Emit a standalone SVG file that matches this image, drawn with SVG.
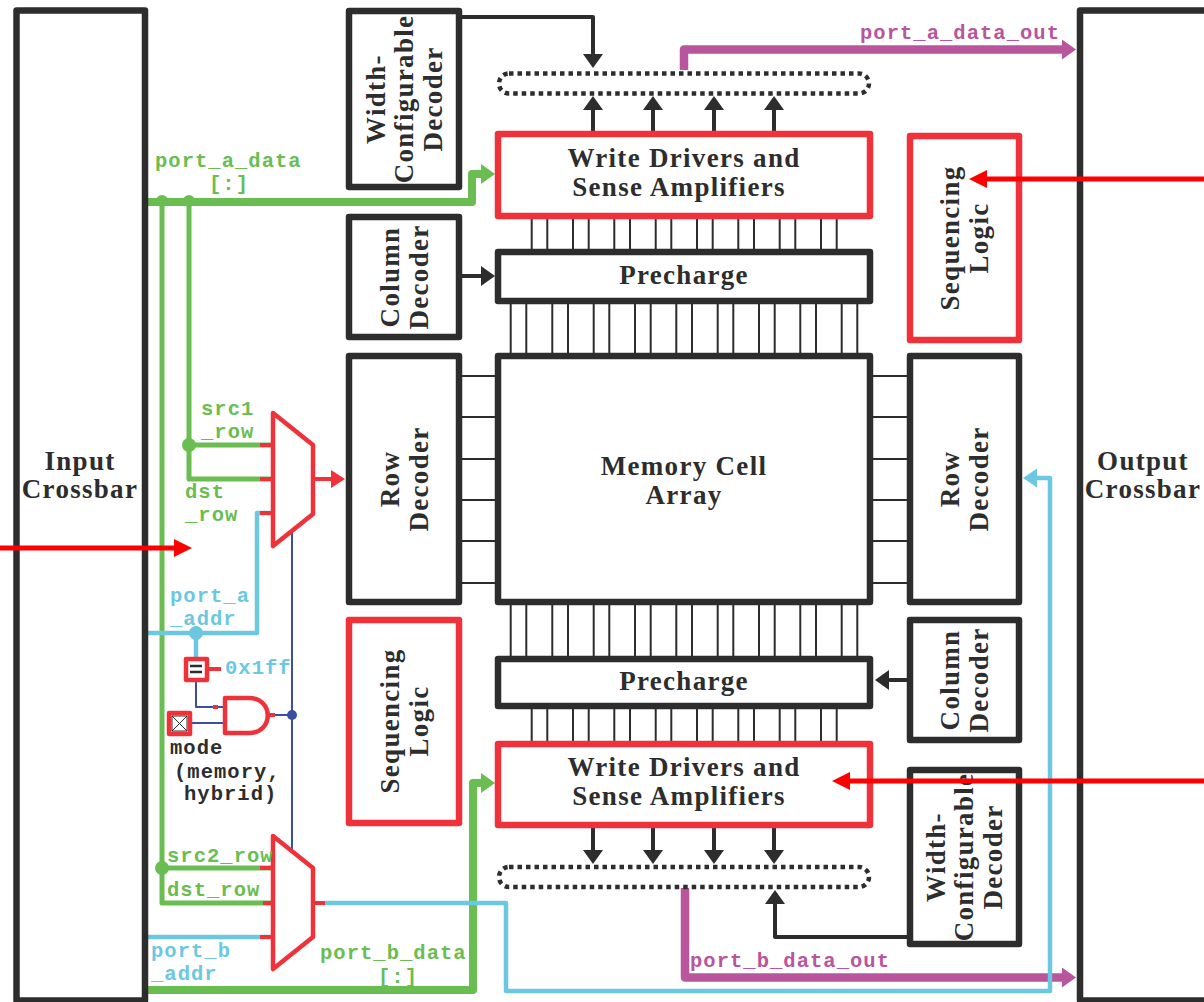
<svg xmlns="http://www.w3.org/2000/svg" width="1204" height="1002" viewBox="0 0 1204 1002">
<style>
.k{fill:#fff;stroke:#2d2d2d;stroke-width:6.500;stroke-linejoin:round}
.r{fill:#fff;stroke:#ef3239;stroke-width:6.500;stroke-linejoin:round}
.m{fill:#fff;stroke:#ef3239;stroke-width:4.500;stroke-linejoin:round}
.t{font-family:"Liberation Serif","DejaVu Serif",serif;font-weight:bold;font-size:27px;fill:#2d2d2d;text-anchor:middle;letter-spacing:1.300px}
.c{font-family:"Liberation Mono",monospace;font-weight:bold;font-size:20.500px;letter-spacing:1.030px}
.gt{fill:#69bd51}.bt{fill:#6cc8e0}.pt{fill:#b9559d}.dt{fill:#2d2d2d}
.wk{fill:none;stroke-linejoin:round;stroke:#2d2d2d;stroke-width:4}
.th{fill:none;stroke:#2d2d2d;stroke-width:2}
.gn{fill:none;stroke:#69bd51;stroke-width:5;stroke-linejoin:round}
.gb{fill:none;stroke:#69bd51;stroke-width:8;stroke-linejoin:round}
.bl{fill:none;stroke:#6cc8e0;stroke-width:4.500;stroke-linejoin:round}
.pu{fill:none;stroke:#b9559d;stroke-width:8.500;stroke-linejoin:round}
.db{fill:none;stroke:#3a4fa0;stroke-width:2;stroke-linejoin:round}
.rs{fill:none;stroke:#ef3239;stroke-width:4}
.rr{fill:none;stroke:#ff0000;stroke-width:5}
.dot{fill:none;stroke:#2d2d2d;stroke-width:4.500;stroke-dasharray:4.500 4}
</style>
<defs>
<marker id="ak" markerUnits="userSpaceOnUse" markerWidth="20" markerHeight="20" refX="4" refY="10" orient="auto"><path d="M0 0L14 10L0 20z" fill="#2d2d2d"/></marker>
<marker id="ag" markerUnits="userSpaceOnUse" markerWidth="15" markerHeight="20" refX="4" refY="10" orient="auto"><path d="M0 0L14 10L0 20z" fill="#69bd51"/></marker>
<marker id="ap" markerUnits="userSpaceOnUse" markerWidth="15" markerHeight="20" refX="4" refY="10" orient="auto"><path d="M0 0L14 10L0 20z" fill="#b9559d"/></marker>
<marker id="ab" markerUnits="userSpaceOnUse" markerWidth="15" markerHeight="20" refX="4" refY="10" orient="auto"><path d="M0 0.500L14 10L0 19.500z" fill="#6cc8e0"/></marker>
<marker id="ar" markerUnits="userSpaceOnUse" markerWidth="15" markerHeight="20" refX="4" refY="10" orient="auto"><path d="M0 1L14 10L0 19z" fill="#ef3239"/></marker>
<marker id="aR" markerUnits="userSpaceOnUse" markerWidth="20" markerHeight="20" refX="4" refY="9" orient="auto"><path d="M0 0L18 9L0 18z" fill="#ff0000"/></marker>
</defs>
<rect width="1204" height="1002" fill="#fff"/>
<g id="connectors">
<path class="gn" d="M162 202V903H273M162 868H273M189 202V479H273M189 445H273"/>
<path class="gb" d="M148 202H472V174H485" marker-end="url(#ag)"/>
<path class="gb" d="M148 990H473V783H485" marker-end="url(#ag)"/>
<path class="bl" d="M148 633H257V513H273M196 633V660M148 937H273"/>
<path class="pu" d="M684 70V49.500H1066" marker-end="url(#ap)"/>
<path class="pu" d="M685 888V977.500H1066" marker-end="url(#ap)"/>
<path class="bl" d="M325 903H506V991H1050V478H1033" marker-end="url(#ab)"/>
<path class="wk" d="M462 17H593V58" marker-end="url(#ak)"/>
<path class="wk" d="M462 276H485" marker-end="url(#ak)"/>
<path class="wk" d="M907 680H885" marker-end="url(#ak)"/>
<path class="wk" d="M907 937H775V900" marker-end="url(#ak)"/>
<path class="wk" d="M593 131V106" marker-end="url(#ak)"/><path class="wk" d="M653 131V106" marker-end="url(#ak)"/><path class="wk" d="M714 131V106" marker-end="url(#ak)"/><path class="wk" d="M774 131V106" marker-end="url(#ak)"/>
<path class="wk" d="M593 828V854" marker-end="url(#ak)"/><path class="wk" d="M653 828V854" marker-end="url(#ak)"/><path class="wk" d="M714 828V854" marker-end="url(#ak)"/><path class="wk" d="M774 828V854" marker-end="url(#ak)"/>
<path class="th" d="M531.700 219V249M547.300 219V249M573 219V249M588.700 219V249M614.300 219V249M630 219V249M655.700 219V249M671.300 219V249M697 219V249M712.700 219V249M738.300 219V249M754 219V249M779.700 219V249M795.300 219V249M821 219V249M836.700 219V249"/>
<path class="th" d="M510.700 304V353M526.300 304V353M552.300 304V353M568 304V353M593.700 304V353M609.300 304V353M635 304V353M650.700 304V353M676.300 304V353M692 304V353M717.700 304V353M733.300 304V353M759 304V353M774.700 304V353M800.300 304V353M816 304V353M841.700 304V353M857.300 304V353"/>
<path class="th" d="M510.700 605V656M526.300 605V656M552.300 605V656M568 605V656M593.700 605V656M609.300 605V656M635 605V656M650.700 605V656M676.300 605V656M692 605V656M717.700 605V656M733.300 605V656M759 605V656M774.700 605V656M800.300 605V656M816 605V656M841.700 605V656M857.300 605V656"/>
<path class="th" d="M531.700 709V741M547.300 709V741M573 709V741M588.700 709V741M614.300 709V741M630 709V741M655.700 709V741M671.300 709V741M697 709V741M712.700 709V741M738.300 709V741M754 709V741M779.700 709V741M795.300 709V741M821 709V741M836.700 709V741"/>
<path class="th" d="M462 376H496M462 417H496M462 459H496M462 500H496M462 541H496M462 583H496M873 376H907M873 417H907M873 459H907M873 500H907M873 541H907M873 583H907"/>
<path class="db" d="M292 533V850M275 715H292M196 681V707H224M191 723H224"/>
<path class="rs" d="M260 445H273M260 479H273M260 513H273M260 868H273M263 903H273M260 937H273M313 903H325M208 669H221M267 715H275M213 707H218"/>
<path class="rs" d="M313 479H335" marker-end="url(#ar)"/>
<circle cx="162" cy="201" r="6" fill="#69bd51"/><circle cx="189" cy="201" r="6" fill="#69bd51"/>
<circle cx="189" cy="445" r="7" fill="#69bd51"/><circle cx="162" cy="868" r="7" fill="#69bd51"/>
<circle cx="196" cy="633" r="7" fill="#6cc8e0"/><circle cx="292" cy="715" r="5" fill="#3a4fa0"/>
</g>
<g id="input-crossbar"><rect class="k" x="16.500" y="10.500" width="128.500" height="990"/><text class="t" x="80" y="470">Input</text><text class="t" x="80" y="498">Crossbar</text></g>
<g id="output-crossbar"><rect class="k" x="1080" y="10.500" width="140" height="990"/><text class="t" x="1143" y="470">Output</text><text class="t" x="1143" y="498">Crossbar</text></g>
<g id="decoder-width-top"><rect class="k" x="349" y="11" width="110" height="176"/><text class="t" transform="rotate(-90 404 99)" x="404" y="99" dy="-19">Width-</text><text class="t" transform="rotate(-90 404 99)" x="404" y="99" dy="9">Configurable</text><text class="t" transform="rotate(-90 404 99)" x="404" y="99" dy="38">Decoder</text></g>
<g id="column-decoder-top"><rect class="k" x="349" y="217" width="110" height="120"/><text class="t" transform="rotate(-90 404 277)" x="404" y="277" dy="-5">Column</text><text class="t" transform="rotate(-90 404 277)" x="404" y="277" dy="24">Decoder</text></g>
<g id="row-decoder-left"><rect class="k" x="349" y="356" width="110" height="246"/><text class="t" transform="rotate(-90 404 479)" x="404" y="479" dy="-5">Row</text><text class="t" transform="rotate(-90 404 479)" x="404" y="479" dy="24">Decoder</text></g>
<g id="sequencing-left"><rect class="r" x="349" y="620" width="110" height="203"/><text class="t" transform="rotate(-90 404 721)" x="404" y="721" dy="-5">Sequencing</text><text class="t" transform="rotate(-90 404 721)" x="404" y="721" dy="24">Logic</text></g>
<g id="buffer-top"><rect class="dot" x="499" y="73.500" width="370" height="20" rx="10"/></g>
<g id="write-top"><rect class="r" x="498" y="134" width="372" height="82"/><text class="t" x="684" y="167">Write Drivers and</text><text class="t" x="679" y="196">Sense Amplifiers</text></g>
<g id="precharge-top"><rect class="k" x="498" y="252" width="372" height="49"/><text class="t" x="684" y="284">Precharge</text></g>
<g id="memory"><rect class="k" x="498" y="356" width="372" height="246"/><text class="t" x="684" y="475">Memory Cell</text><text class="t" x="684" y="504">Array</text></g>
<g id="precharge-bottom"><rect class="k" x="498" y="659" width="372" height="47"/><text class="t" x="684" y="690">Precharge</text></g>
<g id="write-bottom"><rect class="r" x="498" y="744" width="372" height="81"/><text class="t" x="684" y="776">Write Drivers and</text><text class="t" x="679" y="805">Sense Amplifiers</text></g>
<g id="buffer-bottom"><rect class="dot" x="499" y="867" width="370" height="20" rx="10"/></g>
<g id="sequencing-right"><rect class="r" x="910" y="136" width="109" height="204"/><text class="t" transform="rotate(-90 964 238)" x="964" y="238" dy="-5">Sequencing</text><text class="t" transform="rotate(-90 964 238)" x="964" y="238" dy="24">Logic</text></g>
<g id="row-decoder-right"><rect class="k" x="910" y="356" width="109" height="246"/><text class="t" transform="rotate(-90 964 479)" x="964" y="479" dy="-5">Row</text><text class="t" transform="rotate(-90 964 479)" x="964" y="479" dy="24">Decoder</text></g>
<g id="column-decoder-right"><rect class="k" x="910" y="620" width="109" height="120"/><text class="t" transform="rotate(-90 964 680)" x="964" y="680" dy="-5">Column</text><text class="t" transform="rotate(-90 964 680)" x="964" y="680" dy="24">Decoder</text></g>
<g id="decoder-width-bottom"><rect class="k" x="910" y="770" width="109" height="174"/><text class="t" transform="rotate(-90 964 857)" x="964" y="857" dy="-19">Width-</text><text class="t" transform="rotate(-90 964 857)" x="964" y="857" dy="9">Configurable</text><text class="t" transform="rotate(-90 964 857)" x="964" y="857" dy="38">Decoder</text></g>
<g id="mux-top"><path class="m" d="M273 413L313 445V514L273 546Z"/></g>
<g id="mux-bottom"><path class="m" d="M273 836L313 868V937L273 969Z"/></g>
<g id="equals"><rect class="m" x="186" y="659" width="21" height="21"/><path d="M190 666H202M190 672H202" stroke="#2d2d2d" stroke-width="2.500"/></g>
<g id="mode"><rect class="m" x="169" y="713" width="21" height="21"/><path d="M172 716L187 731M187 716L172 731M172 716H187V731H172Z" fill="none" stroke="#2d2d2d" stroke-width="1"/></g>
<g id="and-gate"><path class="m" d="M225 698H249C274 698 274 733 249 733H225Z"/></g>
<g id="labels">
<text class="c gt" x="155" y="167">port_a_data</text><text class="c gt" x="209" y="190">[:]</text>
<text class="c gt" x="201" y="415">src1</text><text class="c gt" x="201" y="438">_row</text>
<text class="c gt" x="185" y="498">dst</text><text class="c gt" x="185" y="521">_row</text>
<text class="c bt" x="170" y="602">port_a</text><text class="c bt" x="170" y="625">_addr</text>
<text class="c bt" x="225" y="674">0x1ff</text>
<text class="c dt" x="170" y="754">mode</text><text class="c dt" x="174" y="778">(memory,</text><text class="c dt" x="184" y="800">hybrid)</text>
<text class="c gt" x="167" y="862">src2_row</text><text class="c gt" x="167" y="896">dst_row</text>
<text class="c bt" x="151" y="957">port_b</text><text class="c bt" x="151" y="980">_addr</text>
<text class="c gt" x="320" y="959">port_b_data</text><text class="c gt" x="378" y="983">[:]</text>
<text class="c pt" x="860" y="39">port_a_data_out</text><text class="c pt" x="690" y="967">port_b_data_out</text>
</g>
<g id="red-arrows">
<path class="rr" d="M0 548H178" marker-end="url(#aR)"/>
<path class="rr" d="M1204 179H983" marker-end="url(#aR)"/>
<path class="rr" d="M1204 781H846" marker-end="url(#aR)"/>
</g>
</svg>
